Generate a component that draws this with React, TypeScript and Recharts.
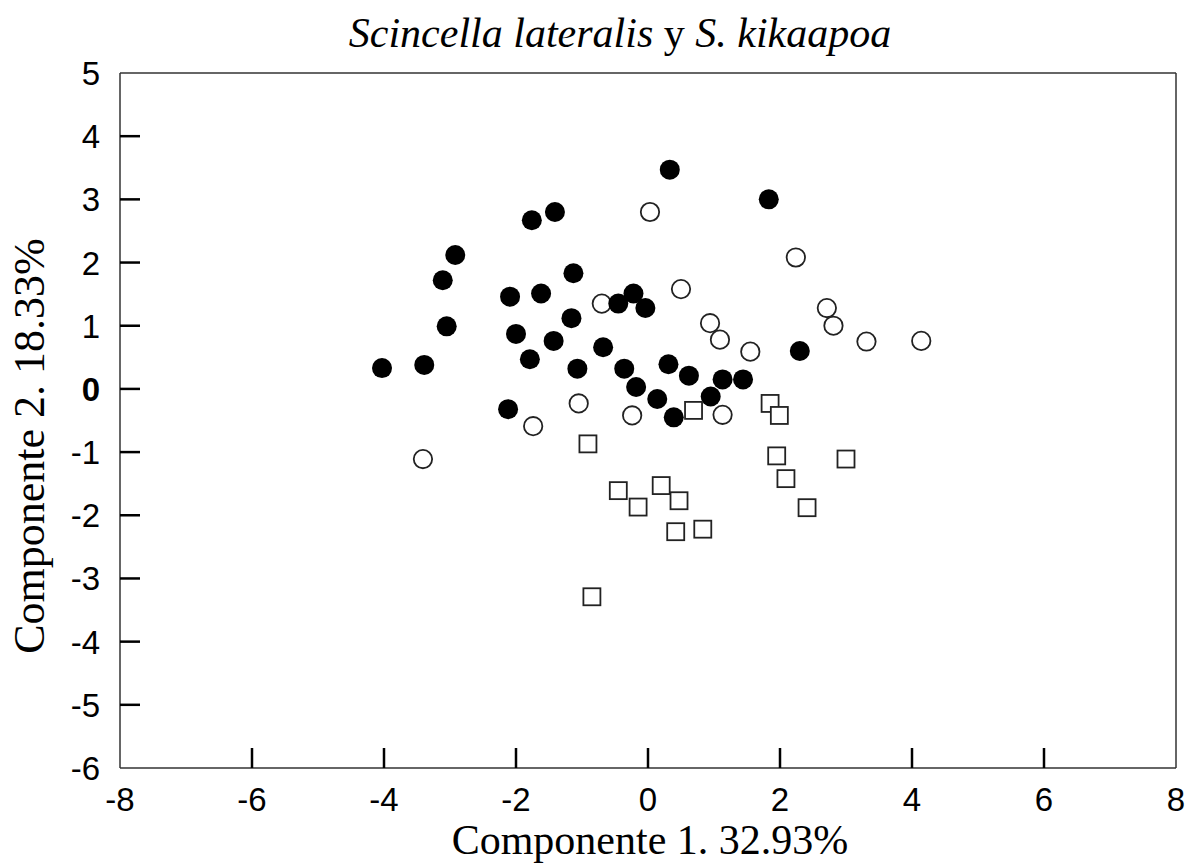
import React from 'react';
import { ScatterChart, Scatter, XAxis, YAxis, ReferenceLine } from 'recharts';

// S. lateralis (filled circles)
const filledX = [0.33, 1.83, -1.76, -1.41, -1.13, -2.09, -1.62, -0.45, -0.22, -0.04, -1.16, -2.0, -1.43, -1.79, -0.68, -1.07, -0.36, 0.31, 0.62, 1.13, 1.44, -0.18, 0.14, 0.95, 0.39, 2.3, -2.12, -2.92, -3.11, -3.05, -4.03, -3.39];
const filledY = [3.47, 3.0, 2.67, 2.8, 1.83, 1.46, 1.51, 1.35, 1.51, 1.28, 1.12, 0.87, 0.76, 0.47, 0.66, 0.32, 0.32, 0.39, 0.21, 0.15, 0.15, 0.03, -0.16, -0.12, -0.45, 0.6, -0.32, 2.12, 1.72, 0.99, 0.33, 0.38];

// open circles
const openX = [0.03, 2.24, 0.5, -0.7, 0.94, 1.09, 1.55, 2.71, 2.81, 3.31, 4.14, -1.05, -0.24, 1.13, -1.74, -3.41];
const openY = [2.8, 2.08, 1.58, 1.35, 1.04, 0.78, 0.59, 1.28, 1.0, 0.75, 0.76, -0.23, -0.42, -0.41, -0.59, -1.11];

// S. kikaapoa (open squares)
const squareX = [-0.91, -0.45, -0.15, 0.2, 0.47, 0.42, 0.83, -0.85, 0.69, 1.85, 1.99, 1.95, 2.09, 2.41, 3.0];
const squareY = [-0.87, -1.61, -1.87, -1.53, -1.77, -2.26, -2.22, -3.29, -0.34, -0.23, -0.42, -1.06, -1.42, -1.88, -1.11];

const xTicks = [-8, -6, -4, -2, 0, 2, 4, 6, 8];
const yTicks = [5, 4, 3, 2, 1, 0, -1, -2, -3, -4, -5, -6];

const zip = (xs: number[], ys: number[]) => xs.map((x, i) => ({ x, y: ys[i] }));
const filledData = zip(filledX, filledY);
const openData = zip(openX, openY);
const squareData = zip(squareX, squareY);

const sans = '"Liberation Sans", Arial, sans-serif';
const serif = '"Liberation Serif", "Times New Roman", serif';

const FilledDot = (p: any) => <circle cx={p.cx} cy={p.cy} r={10} fill="#000" />;
const OpenDot = (p: any) => <circle cx={p.cx} cy={p.cy} r={9.2} fill="#fff" stroke="#222" strokeWidth={1.8} />;
const SquareDot = (p: any) => (
  <rect x={p.cx - 8.5} y={p.cy - 8.5} width={17} height={17} fill="#fff" stroke="#222" strokeWidth={1.8} />
);

const tickText = { fontFamily: sans, fontSize: '33px', fill: '#000' };

const XTick = ({ x, y, payload }: any) => {
  const v = payload.value;
  return (
    <g>
      {v !== -8 && v !== 8 && <line x1={x} x2={x} y1={y} y2={y - 20} stroke="#000" strokeWidth={2.5} />}
      <text x={x} y={y + 43} textAnchor="middle" style={tickText}>{v}</text>
    </g>
  );
};

const YTick = ({ x, y, payload }: any) => {
  const v = payload.value;
  return (
    <g>
      {v !== 5 && v !== -6 && <line x1={x} x2={x + 20} y1={y} y2={y} stroke="#000" strokeWidth={2.5} />}
      <text x={x - 20} y={y + 12} textAnchor="end"
        style={{ ...tickText, fontWeight: v === 0 ? 'bold' : 'normal' }}>{v}</text>
    </g>
  );
};

export default function App() {
  return (
    <div style={{ position: 'absolute', left: 0, top: 0, width: 1196, height: 866, background: '#fff' }}>
      <ScatterChart width={1196} height={866} margin={{ top: 73, right: 20, bottom: 97, left: 119 }}>
        <XAxis type="number" dataKey="x" domain={[-8, 8]} ticks={xTicks} interval={0} height={1}
          axisLine={{ stroke: '#333', strokeWidth: 1.5 }} tickLine={false} tickSize={0} tickMargin={0} tick={<XTick />} />
        <YAxis type="number" dataKey="y" domain={[-6, 5]} ticks={yTicks} interval={0} width={1}
          axisLine={{ stroke: '#333', strokeWidth: 1.5 }} tickLine={false} tickSize={0} tickMargin={0} tick={<YTick />} />
        <ReferenceLine y={5} stroke="#333" strokeWidth={1.5} />
        <ReferenceLine x={8} stroke="#333" strokeWidth={1.5} />
        <Scatter data={openData} shape={<OpenDot />} isAnimationActive={false} />
        <Scatter data={filledData} shape={<FilledDot />} isAnimationActive={false} />
        <Scatter data={squareData} shape={<SquareDot />} isAnimationActive={false} />
      </ScatterChart>
      <svg width={1196} height={866} style={{ position: 'absolute', left: 0, top: 0, pointerEvents: 'none' }}>
        <text x={620} y={47} textAnchor="middle" fontFamily={serif} fontSize={42} fill="#000">
          <tspan fontStyle="italic">Scincella lateralis</tspan>
          <tspan> y </tspan>
          <tspan fontStyle="italic">S. kikaapoa</tspan>
        </text>
        <text x={650} y={854} textAnchor="middle" fontFamily={serif} fontSize={42} fill="#000">
          Componente 1. 32.93%
        </text>
        <text x={0} y={0} transform="translate(44,446) rotate(-90)" textAnchor="middle" fontFamily={serif} fontSize={44} fill="#000">
          Componente 2. 18.33%
        </text>
      </svg>
    </div>
  );
}
